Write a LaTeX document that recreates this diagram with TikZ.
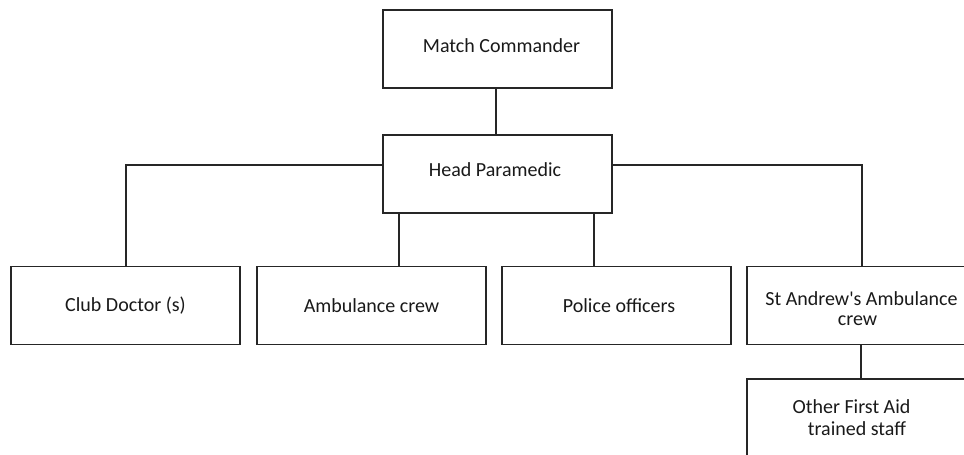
\documentclass[tikz,border=0pt]{standalone}
\usepackage{fontspec}
\setmainfont{Carlito}[Ligatures=TeXOff]
\newcommand{\upby}[2]{\raisebox{#1}[\height][\depth]{#2}}
\begin{document}
\begin{tikzpicture}[x=0.75pt,y=-0.75pt,
  box/.style={draw=black!85,line width=0.8pt,minimum width=171.75pt,minimum height=58.5pt,inner sep=0pt,align=center,font=\fontsize{15pt}{16pt}\selectfont,text=black!90},
  conn/.style={draw=black!85,line width=0.8pt}]
\useasboundingbox (0,0) rectangle (964,454);
\clip (0,0) rectangle (964,454);
\node[box] (mc) at (497.5,49) {\kern6pt\upby{2.6pt}{Match Commander}};
\node[box] (hp) at (497.5,174) {\upby{3pt}{Head Paramedic}\kern3.75pt};
\node[box] (cd) at (125.5,305.5) {Club Doctor (s)};
\node[box] (ac) at (371.5,305.5) {Ambulance crew};
\node[box] (po) at (616.5,305.5) {\kern3.75pt Police officers};
\node[box,font=\fontsize{15pt}{14.6pt}\selectfont] (sa) at (861.5,305.5) {\upby{-2.25pt}{St Andrew's Ambulance}\\\upby{-2.25pt}{crew}\kern6pt};
\node[box,font=\fontsize{15pt}{16.5pt}\selectfont] (of) at (861.5,418) {Other First Aid\kern15pt\\trained staff\kern6.75pt};
\draw[conn] (mc.south -| 496,0) -- (hp.north -| 496,0);
\draw[conn] (hp.west |- 0,165) -| (cd.north -| 126,0);
\draw[conn] (hp.east |- 0,165) -| (sa.north -| 862,0);
\draw[conn] (hp.south -| 399,0) -- (ac.north -| 399,0);
\draw[conn] (hp.south -| 594,0) -- (po.north -| 594,0);
\draw[conn] (sa.south -| 861,0) -- (of.north -| 861,0);
\end{tikzpicture}
\end{document}
